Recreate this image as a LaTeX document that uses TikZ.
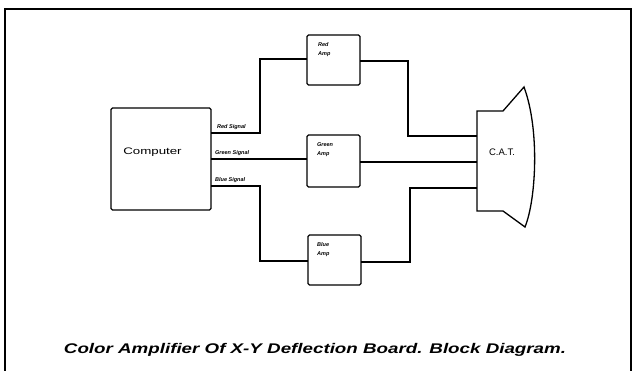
\documentclass[tikz,border=0pt]{standalone}
\usepackage{fontspec}
\setmainfont{Liberation Sans}
\begin{document}
\begin{tikzpicture}[x=1pt,y=-1pt,
  blk/.style={draw,line width=1.3pt,rounded corners=1.5pt},
  wire/.style={draw,line width=1.3pt},
  hand/.style={font=\fontsize{5.5}{6.5}\selectfont\bfseries\itshape,inner sep=0pt},
  big/.style={font=\fontsize{9.5}{11}\selectfont,inner sep=0pt}]
\useasboundingbox (0,0) rectangle (632,370);
% frame
\draw[line width=1.8pt] (5,372) -- (5,9) -- (631,9) -- (631,372);
% blocks
\draw[blk] (111,108) rectangle (211,210);
\node[big,anchor=west,xscale=1.4] (comp) at (123,152) {Computer};

\draw[blk] (307,35) rectangle (360,85);
\node[hand,align=left,anchor=north west] (ra) at (318,42) {Red\\[3pt]Amp};
\draw[blk] (307,135) rectangle (360,187);
\node[hand,align=left,anchor=north west] (ga) at (317,142) {Green\\[3pt]Amp};
\draw[blk] (308,235) rectangle (361,285);
\node[hand,align=left,anchor=north west] (ba) at (317,242) {Blue\\[3pt]Amp};

% CRT
\draw[line width=1.3pt] (503,111) -- (477,111) -- (477,211) -- (503,211) -- (525,227)
  .. controls (536,200) and (540,130) .. (524,87) -- cycle;
\node[big] (crt) at (502,152) {C.A.T.};

% wires
\draw[wire] (211,133) -- (260,133) -- (260,59) -- (307,59);
\draw[wire] (211,159) -- (307,159);
\draw[wire] (211,186) -- (260,186) -- (260,261) -- (308,261);
\draw[wire] (360,61) -- (408,61) -- (408,136) -- (477,136);
\draw[wire] (360,162) -- (477,162);
\draw[wire] (361,262) -- (410,262) -- (410,188) -- (477,188);

% signal labels
\node[hand,anchor=south west] (rs) at (217,129.5) {Red Signal};
\node[hand,anchor=south west] (gs) at (215,155.5) {Green Signal};
\node[hand,anchor=south west] (bs) at (215,182.5) {Blue Signal};

% caption
\node[font=\fontsize{14}{16}\selectfont\bfseries\itshape,inner sep=0pt,xscale=1.34] (cap) at (315,350)
  {Color Amplifier Of X-Y Deflection Board. Block Diagram.};
\end{tikzpicture}
\end{document}
